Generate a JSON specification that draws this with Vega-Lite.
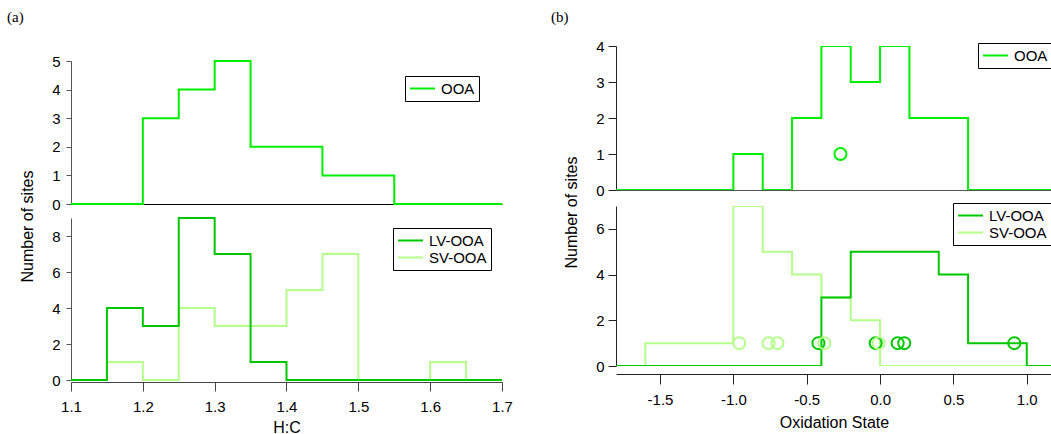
{
  "$schema": "https://vega.github.io/schema/vega-lite/v6.json",
  "background": "white",
  "padding": {"left": 7, "top": 10, "right": 0, "bottom": 0},
  "bounds": "full",
  "spacing": 38,
  "resolve": {"scale": {"color": "independent"}, "legend": {"color": "independent"}},
  "config": {
    "font": "Liberation Sans",
    "view": {"stroke": null},
    "axis": {"grid": false, "labelFontSize": 15, "titleFontSize": 16, "labelColor": "black", "titleColor": "black", "titleFontWeight": "normal", "domainColor": "#555", "tickColor": "#555", "labelFlush": false, "labelOverlap": false},
    "legend": {"orient": "none", "strokeColor": "black", "fillColor": "white", "padding": 4, "symbolType": "M-1,0H2.33", "symbolSize": 225, "symbolStrokeWidth": 2, "labelFontSize": 15, "labelColor": "black", "labelOffset": 15, "rowPadding": -2, "cornerRadius": 0, "labelLimit": 300},
    "title": {"font": "Liberation Serif", "fontSize": 15, "fontWeight": "normal", "color": "black"}
  },
  "datasets": {
    "hc_ooa": [
      {"x": 1.10, "n": 0}, {"x": 1.15, "n": 0}, {"x": 1.20, "n": 3}, {"x": 1.25, "n": 4}, {"x": 1.30, "n": 5}, {"x": 1.35, "n": 2}, {"x": 1.40, "n": 2}, {"x": 1.45, "n": 1}, {"x": 1.50, "n": 1}, {"x": 1.55, "n": 0}, {"x": 1.60, "n": 0}, {"x": 1.65, "n": 0}, {"x": 1.70, "n": 0}
    ],
    "hc_sub": [
      {"s": "LV-OOA", "x": 1.10, "n": 0}, {"s": "LV-OOA", "x": 1.15, "n": 4}, {"s": "LV-OOA", "x": 1.20, "n": 3}, {"s": "LV-OOA", "x": 1.25, "n": 9}, {"s": "LV-OOA", "x": 1.30, "n": 7}, {"s": "LV-OOA", "x": 1.35, "n": 1}, {"s": "LV-OOA", "x": 1.40, "n": 0}, {"s": "LV-OOA", "x": 1.45, "n": 0}, {"s": "LV-OOA", "x": 1.50, "n": 0}, {"s": "LV-OOA", "x": 1.55, "n": 0}, {"s": "LV-OOA", "x": 1.60, "n": 0}, {"s": "LV-OOA", "x": 1.65, "n": 0}, {"s": "LV-OOA", "x": 1.70, "n": 0},
      {"s": "SV-OOA", "x": 1.10, "n": 0}, {"s": "SV-OOA", "x": 1.15, "n": 1}, {"s": "SV-OOA", "x": 1.20, "n": 0}, {"s": "SV-OOA", "x": 1.25, "n": 4}, {"s": "SV-OOA", "x": 1.30, "n": 3}, {"s": "SV-OOA", "x": 1.35, "n": 3}, {"s": "SV-OOA", "x": 1.40, "n": 5}, {"s": "SV-OOA", "x": 1.45, "n": 7}, {"s": "SV-OOA", "x": 1.50, "n": 0}, {"s": "SV-OOA", "x": 1.55, "n": 0}, {"s": "SV-OOA", "x": 1.60, "n": 1}, {"s": "SV-OOA", "x": 1.65, "n": 0}, {"s": "SV-OOA", "x": 1.70, "n": 0}
    ],
    "os_ooa": [
      {"x": -1.8, "n": 0}, {"x": -1.6, "n": 0}, {"x": -1.4, "n": 0}, {"x": -1.2, "n": 0}, {"x": -1.0, "n": 1}, {"x": -0.8, "n": 0}, {"x": -0.6, "n": 2}, {"x": -0.4, "n": 4}, {"x": -0.2, "n": 3}, {"x": 0.0, "n": 4}, {"x": 0.2, "n": 2}, {"x": 0.4, "n": 2}, {"x": 0.6, "n": 0}, {"x": 0.8, "n": 0}, {"x": 1.0, "n": 0}, {"x": 1.2, "n": 0}
    ],
    "os_ooa_pts": [{"x": -0.27, "n": 1}],
    "os_sub": [
      {"s": "LV-OOA", "x": -1.8, "n": 0}, {"s": "LV-OOA", "x": -1.6, "n": 0}, {"s": "LV-OOA", "x": -1.4, "n": 0}, {"s": "LV-OOA", "x": -1.2, "n": 0}, {"s": "LV-OOA", "x": -1.0, "n": 0}, {"s": "LV-OOA", "x": -0.8, "n": 0}, {"s": "LV-OOA", "x": -0.6, "n": 0}, {"s": "LV-OOA", "x": -0.4, "n": 3}, {"s": "LV-OOA", "x": -0.2, "n": 5}, {"s": "LV-OOA", "x": 0.0, "n": 5}, {"s": "LV-OOA", "x": 0.2, "n": 5}, {"s": "LV-OOA", "x": 0.4, "n": 4}, {"s": "LV-OOA", "x": 0.6, "n": 1}, {"s": "LV-OOA", "x": 0.8, "n": 1}, {"s": "LV-OOA", "x": 1.0, "n": 0}, {"s": "LV-OOA", "x": 1.2, "n": 0},
      {"s": "SV-OOA", "x": -1.8, "n": 0}, {"s": "SV-OOA", "x": -1.6, "n": 1}, {"s": "SV-OOA", "x": -1.4, "n": 1}, {"s": "SV-OOA", "x": -1.2, "n": 1}, {"s": "SV-OOA", "x": -1.0, "n": 7}, {"s": "SV-OOA", "x": -0.8, "n": 5}, {"s": "SV-OOA", "x": -0.6, "n": 4}, {"s": "SV-OOA", "x": -0.4, "n": 3}, {"s": "SV-OOA", "x": -0.2, "n": 2}, {"s": "SV-OOA", "x": 0.0, "n": 0}, {"s": "SV-OOA", "x": 0.2, "n": 0}, {"s": "SV-OOA", "x": 0.4, "n": 0}, {"s": "SV-OOA", "x": 0.6, "n": 0}, {"s": "SV-OOA", "x": 0.8, "n": 0}, {"s": "SV-OOA", "x": 1.0, "n": 0}, {"s": "SV-OOA", "x": 1.2, "n": 0}
    ],
    "os_pts": [
      {"s": "LV-OOA", "x": -0.42, "n": 1}, {"s": "LV-OOA", "x": -0.03, "n": 1}, {"s": "LV-OOA", "x": 0.12, "n": 1}, {"s": "LV-OOA", "x": 0.165, "n": 1}, {"s": "LV-OOA", "x": 0.915, "n": 1},
      {"s": "SV-OOA", "x": -0.96, "n": 1}, {"s": "SV-OOA", "x": -0.76, "n": 1}, {"s": "SV-OOA", "x": -0.70, "n": 1}, {"s": "SV-OOA", "x": -0.38, "n": 1}, {"s": "SV-OOA", "x": -0.01, "n": 1}
    ]
  },
  "hconcat": [
    {
      "bounds": "flush",
      "spacing": 14,
      "resolve": {"scale": {"color": "independent"}, "legend": {"color": "independent"}},
      "vconcat": [
        {
          "width": 431, "height": 1,
          "title": {"text": "(a)", "anchor": "start", "frame": "group", "dx": -64, "offset": 9, "baseline": "alphabetic"},
          "data": {"values": []},
          "mark": {"type": "point", "opacity": 0},
          "encoding": {}
        },
        {
          "width": 431, "height": 143,
          "data": {"name": "hc_ooa"},
          "mark": {"type": "line", "interpolate": "step-after", "strokeWidth": 2},
          "encoding": {
            "x": {"field": "x", "type": "quantitative", "scale": {"domain": [1.1, 1.7], "nice": false, "zero": false}, "axis": {"labels": false, "ticks": false, "title": null, "domainColor": "black"}},
            "y": {"field": "n", "type": "quantitative", "scale": {"domain": [0, 5], "nice": false}, "axis": {"values": [0, 1, 2, 3, 4, 5], "title": "Number of sites", "titleX": -44, "titleY": 165, "titleAngle": -90, "titleAlign": "center", "titleBaseline": "middle", "tickSize": 5, "labelPadding": 6}},
            "color": {"datum": "OOA", "type": "nominal", "scale": {"range": ["#00ee00"]}, "legend": {"title": null, "legendX": 334, "legendY": 15}}
          }
        },
        {
          "width": 431, "height": 162,
          "data": {"name": "hc_sub"},
          "encoding": {
            "x": {"field": "x", "type": "quantitative", "scale": {"domain": [1.1, 1.7], "nice": false, "zero": false}, "axis": {"values": [1.1, 1.2, 1.3, 1.4, 1.5, 1.6, 1.7], "format": ".1f", "title": "H:C", "offset": 2, "tickSize": 9, "labelPadding": 8, "titlePadding": 5, "domainColor": "#444", "tickColor": "#444"}},
            "y": {"field": "n", "type": "quantitative", "scale": {"domain": [0, 9], "nice": false}, "axis": {"values": [0, 2, 4, 6, 8], "title": null, "tickSize": 5, "labelPadding": 6}},
            "color": {"field": "s", "type": "nominal", "scale": {"domain": ["LV-OOA", "SV-OOA"], "range": ["#00c800", "#b4ff8c"]}, "legend": {"title": null, "legendX": 322, "legendY": 10}}
          },
          "layer": [
            {"transform": [{"filter": "datum.s === 'SV-OOA'"}], "mark": {"type": "line", "interpolate": "step-after", "strokeWidth": 2}},
            {"transform": [{"filter": "datum.s === 'LV-OOA'"}], "mark": {"type": "line", "interpolate": "step-after", "strokeWidth": 2}}
          ]
        }
      ]
    },
    {
      "bounds": "flush",
      "spacing": 16,
      "resolve": {"scale": {"color": "independent"}, "legend": {"color": "independent"}},
      "vconcat": [
        {
          "width": 436, "height": 144,
          "title": {"text": "(b)", "anchor": "start", "frame": "group", "dx": -65, "offset": 2, "baseline": "alphabetic"},
          "encoding": {
            "x": {"field": "x", "type": "quantitative", "scale": {"domain": [-1.8, 1.172], "nice": false, "zero": false}, "axis": {"labels": false, "ticks": false, "title": null, "domainColor": "#555"}},
            "y": {"field": "n", "type": "quantitative", "scale": {"domain": [0, 4], "nice": false}, "axis": {"values": [0, 1, 2, 3, 4], "title": "Number of sites", "titleX": -45, "titleY": 166, "titleAngle": -90, "titleAlign": "center", "titleBaseline": "middle", "tickSize": 8, "labelPadding": 4, "domainColor": "#222", "tickColor": "#222"}},
            "color": {"datum": "OOA", "type": "nominal", "scale": {"range": ["#00ee00"]}, "legend": {"title": null, "legendX": 362, "legendY": -3}}
          },
          "layer": [
            {"data": {"name": "os_ooa"}, "mark": {"type": "line", "interpolate": "step-after", "strokeWidth": 2, "clip": true}},
            {"data": {"name": "os_ooa_pts"}, "mark": {"type": "point", "shape": "circle", "filled": false, "strokeWidth": 2, "size": 144, "opacity": 1}}
          ]
        },
        {
          "width": 436, "height": 160,
          "encoding": {
            "x": {"field": "x", "type": "quantitative", "scale": {"domain": [-1.8, 1.172], "nice": false, "zero": false}, "axis": {"values": [-1.5, -1, -0.5, 0, 0.5, 1], "labelExpr": "(datum.value < 0 ? '-' : '') + format(abs(datum.value), '.1f')", "title": "Oxidation State", "offset": 8, "tickSize": 10, "labelPadding": 8, "titlePadding": 7, "domainColor": "#222", "tickColor": "#222"}},
            "y": {"field": "n", "type": "quantitative", "scale": {"domain": [0, 7], "nice": false}, "axis": {"values": [0, 2, 4, 6], "title": null, "tickSize": 8, "labelPadding": 4, "domainColor": "#222", "tickColor": "#222"}},
            "color": {"field": "s", "type": "nominal", "scale": {"domain": ["LV-OOA", "SV-OOA"], "range": ["#00c800", "#b4ff8c"]}, "legend": {"title": null, "legendX": 337, "legendY": -3}}
          },
          "layer": [
            {"data": {"name": "os_sub"}, "transform": [{"filter": "datum.s === 'SV-OOA'"}], "mark": {"type": "line", "interpolate": "step-after", "strokeWidth": 2, "clip": true}},
            {"data": {"name": "os_sub"}, "transform": [{"filter": "datum.s === 'LV-OOA'"}], "mark": {"type": "line", "interpolate": "step-after", "strokeWidth": 2, "clip": true}},
            {"data": {"name": "os_pts"}, "mark": {"type": "point", "shape": "circle", "filled": false, "strokeWidth": 2, "size": 144, "opacity": 1}}
          ]
        }
      ]
    }
  ]
}
